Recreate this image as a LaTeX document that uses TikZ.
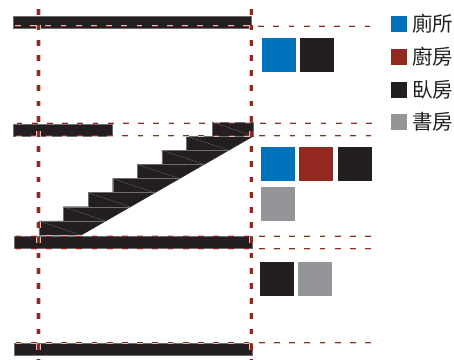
\documentclass[tikz,border=0pt]{standalone}
\usepackage{fontspec}
\usepackage{xcolor}
\usetikzlibrary{positioning}
\newfontfamily\cjk{Noto Sans CJK TC}
\definecolor{planInk}{HTML}{231F20}
\definecolor{planEdge}{HTML}{6D6E71}
\definecolor{planRed}{HTML}{92281F}
\definecolor{planBlue}{HTML}{0072BC}
\definecolor{planGrey}{HTML}{939598}

\begin{document}
\begin{tikzpicture}[
  x=1pt,y=-1pt,
  slab/.style={draw=planEdge,line width=0.8pt,fill=planInk,anchor=north west,
               inner sep=0pt,outer sep=0pt,minimum height=12pt},
  room/.style={anchor=north west,inner sep=0pt,outer sep=0pt,minimum size=34pt},
  key/.style={anchor=north west,inner sep=0pt,outer sep=0pt,minimum size=16pt},
  lbl/.style={font=\cjk\fontsize{20.5}{20.5}\selectfont,text=planInk,inner sep=0pt},
  level/.style={draw=planRed,line width=1pt,dash pattern=on 5.8pt off 9.4pt,
                preaction={draw=planRed!30,line width=2pt,dash pattern=on 5.8pt off 9.4pt}},
  guide/.style={draw=planRed,line width=3pt,dash pattern=on 5.8pt off 9.4pt,
                preaction={draw=planRed!30,line width=4.6pt,dash pattern=on 5.8pt off 9.4pt}},
  tread/.style={draw=planEdge,line width=0.6pt},
  rake/.style={draw=planEdge,line width=0.4pt,dash pattern=on 2pt off 0.8pt}
]
\useasboundingbox (0,0) rectangle (454,359);

% Floor slabs
\node[slab,minimum width=238pt] (roof)   at (13.5,16) {};
\node[slab,minimum width=99pt]  (upperL) at (13.5,124) {};
\node[slab,minimum width=41pt,minimum height=14pt] (upperR) at (212,122) {};
\node[slab,minimum width=238pt] (middle) at (14.5,236) {};
\node[slab,minimum width=238pt] (ground) at (14,343) {};

% Stairs
\foreach \i in {0,...,6} {
  \pgfmathsetmacro{\sx}{39+24.6*\i}
  \pgfmathsetmacro{\sy}{221-14.14*\i}
  \filldraw[planInk,line width=0.3pt] (\sx,\sy) -- ++(66.8,0) -- ++(-24.6,14.14) -- ++(-42.2,0) -- cycle;
}
\foreach \i in {0,...,6} {
  \pgfmathsetmacro{\sx}{39+24.6*\i}
  \pgfmathsetmacro{\sy}{221-14.14*\i}
  \draw[tread] (\sx,\sy+14.14) -- (\sx,\sy) -- ++(66.8,0);
  \draw[rake] (\sx,\sy) -- ++(42.2,14.14);
}
\draw[rake] (upperR.north west) -- (upperR.south east);

% Level lines
\coordinate (roofL)   at (15,26);
\coordinate (roofR)   at (372,26);
\coordinate (upTopL)  at (16.5,123);
\coordinate (upTopR)  at (372,123);
\coordinate (upBotL)  at (16,135.5);
\coordinate (upBotR)  at (372,135.5);
\coordinate (midTopL) at (15.5,236);
\coordinate (midTopR) at (372,236);
\coordinate (midBotL) at (15.5,248.5);
\coordinate (midBotR) at (372,248.5);
\coordinate (gndL)    at (15.5,342.5);
\coordinate (gndR)    at (372,342.5);
\foreach \a/\b in {roofL/roofR,upTopL/upTopR,upBotL/upBotR,midTopL/midTopR,midBotL/midBotR,gndL/gndR}
  \draw[level] (\a) -- (\b);

% Guide lines
\coordinate (guideAt) at (38.5,9.3);
\coordinate (guideAb) at (38.5,359);
\coordinate (guideBt) at (251,9.3);
\coordinate (guideBb) at (251,359);
\draw[guide] (guideAt) -- (guideAb);
\draw[guide] (guideBt) -- (guideBb);

% Rooms
\node[room,fill=planBlue] (bathT)  at (262,38) {};
\node[room,fill=planInk]  (bedT)   at (300,38) {};
\node[room,fill=planBlue] (bathM)  at (261,147) {};
\node[room,fill=planRed]  (kitM)   at (299,147) {};
\node[room,fill=planInk]  (bedM)   at (338,147) {};
\node[room,fill=planGrey] (studyM) at (261,187) {};
\node[room,fill=planInk]  (bedB)   at (260,262) {};
\node[room,fill=planGrey] (studyB) at (298,262) {};

% Legend
\node[key,fill=planBlue] (keyBath)  at (391,16) {};
\node[key,fill=planRed]  (keyKit)   at (391,49) {};
\node[key,fill=planInk]  (keyBed)   at (391,82) {};
\node[key,fill=planGrey] (keyStudy) at (391,114) {};
\node[lbl,right=5pt of keyBath]  (txtBath)  {廁所};
\node[lbl,right=5pt of keyKit]   (txtKit)   {廚房};
\node[lbl,right=5pt of keyBed]   (txtBed)   {臥房};
\node[lbl,right=5pt of keyStudy] (txtStudy) {書房};
\end{tikzpicture}
\end{document}
